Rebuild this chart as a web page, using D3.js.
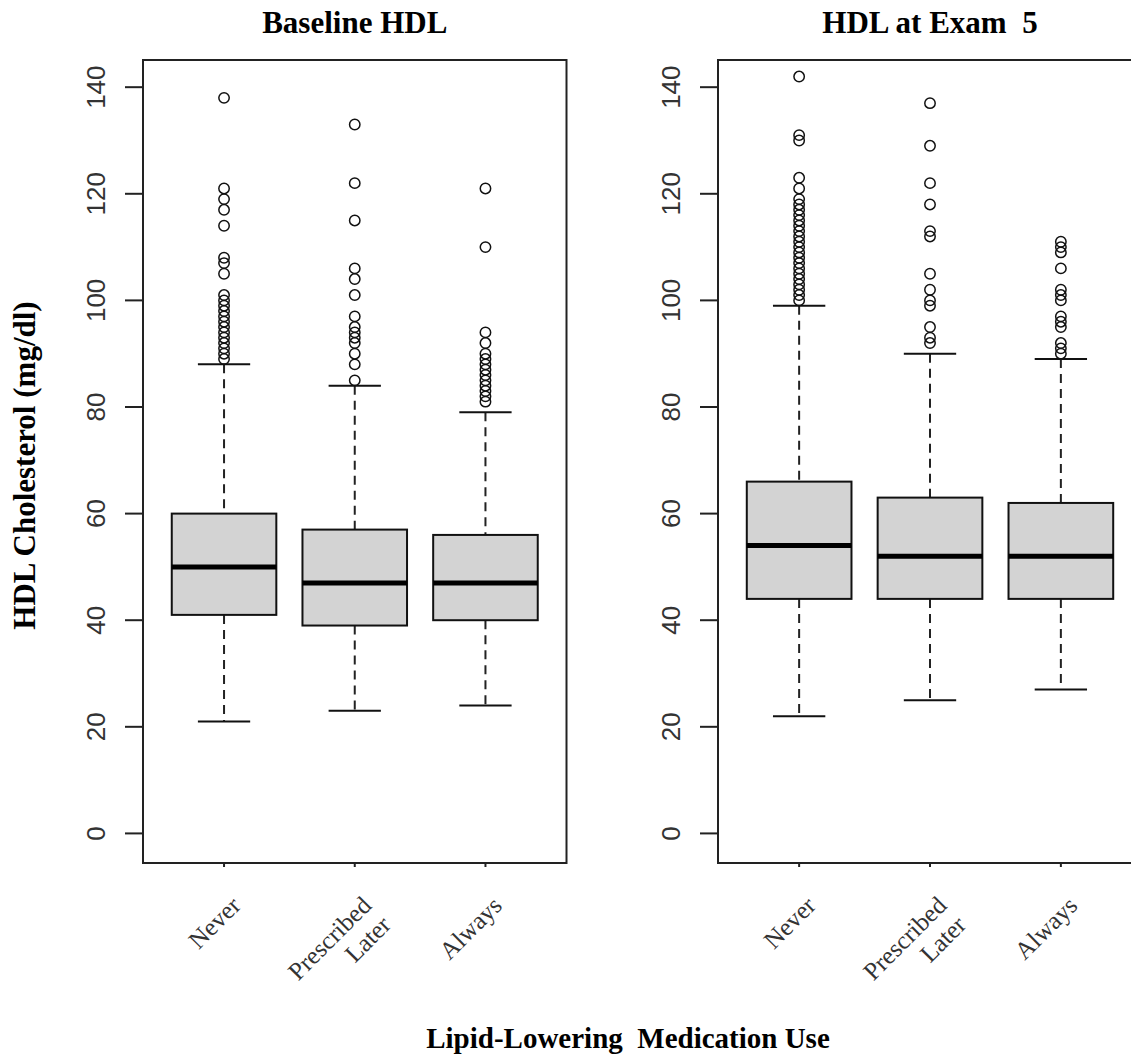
<!DOCTYPE html>
<html>
<head>
<meta charset="utf-8">
<script src="https://cdn.jsdelivr.net/npm/d3@7"></script>
<style>
  html, body { margin: 0; padding: 0; background: #fff; }
  svg { display: block; }
  .serif { font-family: "Liberation Serif", "Times New Roman", serif; }
  .sans { font-family: "Liberation Sans", Arial, sans-serif; }
</style>
</head>
<body>
<svg id="chart" width="1131" height="1059"></svg>
<script>
// ---------- data ----------
const categories = ["Never", "Prescribed\nLater", "Always"];
const panelTitles = ["Baseline HDL", "HDL at Exam  5"];
const yTicks = [0, 20, 40, 60, 80, 100, 120, 140];
const yLabel = "HDL Cholesterol (mg/dl)";
const xLabel = "Lipid-Lowering  Medication Use";

// Baseline HDL
const baselineLowWhisker  = [21, 23, 24];
const baselineQ1          = [41, 39, 40];
const baselineMedian      = [50, 47, 47];
const baselineQ3          = [60, 57, 56];
const baselineHighWhisker = [88, 84, 79];
const baselineOutliers = [
  [138, 121, 119, 117, 114, 108, 107, 105, 101, 100, 99, 98, 97, 96, 95, 94, 93, 92, 91, 90, 89],
  [133, 122, 115, 106, 104, 101, 97, 95, 94, 93, 92, 90, 88, 85],
  [121, 110, 94, 92, 90, 89, 88, 87, 86, 85, 84, 83, 82, 81]
];

// HDL at Exam 5
const exam5LowWhisker  = [22, 25, 27];
const exam5Q1          = [44, 44, 44];
const exam5Median      = [54, 52, 52];
const exam5Q3          = [66, 63, 62];
const exam5HighWhisker = [99, 90, 89];
const exam5Outliers = [
  [142, 131, 130, 123, 121, 119, 118, 117, 116, 115, 114, 113, 112, 111, 110, 109, 108, 107, 106, 105, 104, 103, 102, 101, 100],
  [137, 129, 122, 118, 113, 112, 105, 102, 100, 99, 95, 93, 92],
  [111, 110, 109, 106, 102, 101, 100, 97, 96, 95, 92, 91, 90]
];

function buildStats(lo, q1, med, q3, hi, out) {
  return categories.map((c, i) => ({
    cat: c, idx: i + 1, lo: lo[i], q1: q1[i], med: med[i], q3: q3[i], hi: hi[i], out: out[i]
  }));
}
const panels = [
  { title: panelTitles[0], stats: buildStats(baselineLowWhisker, baselineQ1, baselineMedian, baselineQ3, baselineHighWhisker, baselineOutliers), left: 143, right: 566.5 },
  { title: panelTitles[1], stats: buildStats(exam5LowWhisker, exam5Q1, exam5Median, exam5Q3, exam5HighWhisker, exam5Outliers), left: 718, right: 1142 }
];

// ---------- drawing ----------
const svg = d3.select("#chart");
const plotTop = 60, plotBottom = 863;
const y = d3.scaleLinear().domain([-5.55, 145.1]).range([plotBottom, plotTop]);

panels.forEach(p => {
  const x = d3.scaleLinear().domain([0.38, 3.62]).range([p.left, p.right]);
  const unit = x(1) - x(0);
  const boxHalf = 0.4 * unit, capHalf = 0.2 * unit;
  const g = svg.append("g");

  p.stats.forEach(s => {
    // whiskers (dashed)
    g.append("line").attr("x1", x(s.idx)).attr("x2", x(s.idx))
      .attr("y1", y(s.hi)).attr("y2", y(s.q3))
      .attr("stroke", "#222").attr("stroke-width", 2).attr("stroke-dasharray", "9,6");
    g.append("line").attr("x1", x(s.idx)).attr("x2", x(s.idx))
      .attr("y1", y(s.q1)).attr("y2", y(s.lo))
      .attr("stroke", "#222").attr("stroke-width", 2).attr("stroke-dasharray", "9,6");
    [s.lo, s.hi].forEach(v => {
      g.append("line").attr("x1", x(s.idx) - capHalf).attr("x2", x(s.idx) + capHalf)
        .attr("y1", y(v)).attr("y2", y(v))
        .attr("stroke", "#111").attr("stroke-width", 2);
    });
    // box
    g.append("rect").attr("x", x(s.idx) - boxHalf).attr("width", 2 * boxHalf)
      .attr("y", y(s.q3)).attr("height", y(s.q1) - y(s.q3))
      .attr("fill", "#d3d3d3").attr("stroke", "#111").attr("stroke-width", 2);
    // median
    g.append("line").attr("x1", x(s.idx) - boxHalf).attr("x2", x(s.idx) + boxHalf)
      .attr("y1", y(s.med)).attr("y2", y(s.med))
      .attr("stroke", "#000").attr("stroke-width", 5);
    // outliers
    g.selectAll(null).data(s.out).enter().append("circle")
      .attr("cx", x(s.idx)).attr("cy", d => y(d)).attr("r", 5.2)
      .attr("fill", "none").attr("stroke", "#111").attr("stroke-width", 1.5);
  });

  // frame
  g.append("rect").attr("x", p.left).attr("y", plotTop)
    .attr("width", p.right - p.left).attr("height", plotBottom - plotTop)
    .attr("fill", "none").attr("stroke", "#222").attr("stroke-width", 2);

  // y axis ticks
  yTicks.forEach(t => {
    g.append("line").attr("x1", p.left - 18).attr("x2", p.left)
      .attr("y1", y(t)).attr("y2", y(t)).attr("stroke", "#222").attr("stroke-width", 2);
    g.append("text").attr("class", "sans")
      .attr("transform", `translate(${p.left - 38},${y(t)}) rotate(-90)`)
      .attr("text-anchor", "middle").attr("font-size", 26).attr("fill", "#333")
      .text(t);
  });

  // x ticks + labels
  p.stats.forEach(s => {
    g.append("line").attr("x1", x(s.idx)).attr("x2", x(s.idx))
      .attr("y1", plotBottom).attr("y2", plotBottom + 4).attr("stroke", "#222").attr("stroke-width", 2);
    const lines = s.cat.split("\n");
    const t = g.append("text").attr("class", "serif")
      .attr("transform", `translate(${x(s.idx) + 18},${plotBottom + 44}) rotate(-45)`)
      .attr("text-anchor", "end").attr("font-size", 25).attr("fill", "#333");
    lines.forEach((ln, k) => {
      t.append("tspan").attr("x", 0).attr("dy", k === 0 ? 0 : "1.1em").text(ln);
    });
  });

  // title
  svg.append("text").attr("class", "serif")
    .attr("x", (p.left + p.right) / 2).attr("y", 33)
    .attr("text-anchor", "middle").attr("font-size", 31).attr("font-weight", "bold")
    .style("white-space", "pre")
    .text(p.title);
});

// y label
svg.append("text").attr("class", "serif")
  .attr("transform", `translate(35,${(plotTop + plotBottom) / 2 + 4}) rotate(-90)`)
  .attr("text-anchor", "middle").attr("font-size", 31).attr("font-weight", "bold")
  .text(yLabel);

// x label
svg.append("text").attr("class", "serif")
  .attr("x", 628).attr("y", 1048)
  .attr("text-anchor", "middle").attr("font-size", 29).attr("font-weight", "bold")
  .style("white-space", "pre")
  .text(xLabel);
</script>
</body>
</html>
